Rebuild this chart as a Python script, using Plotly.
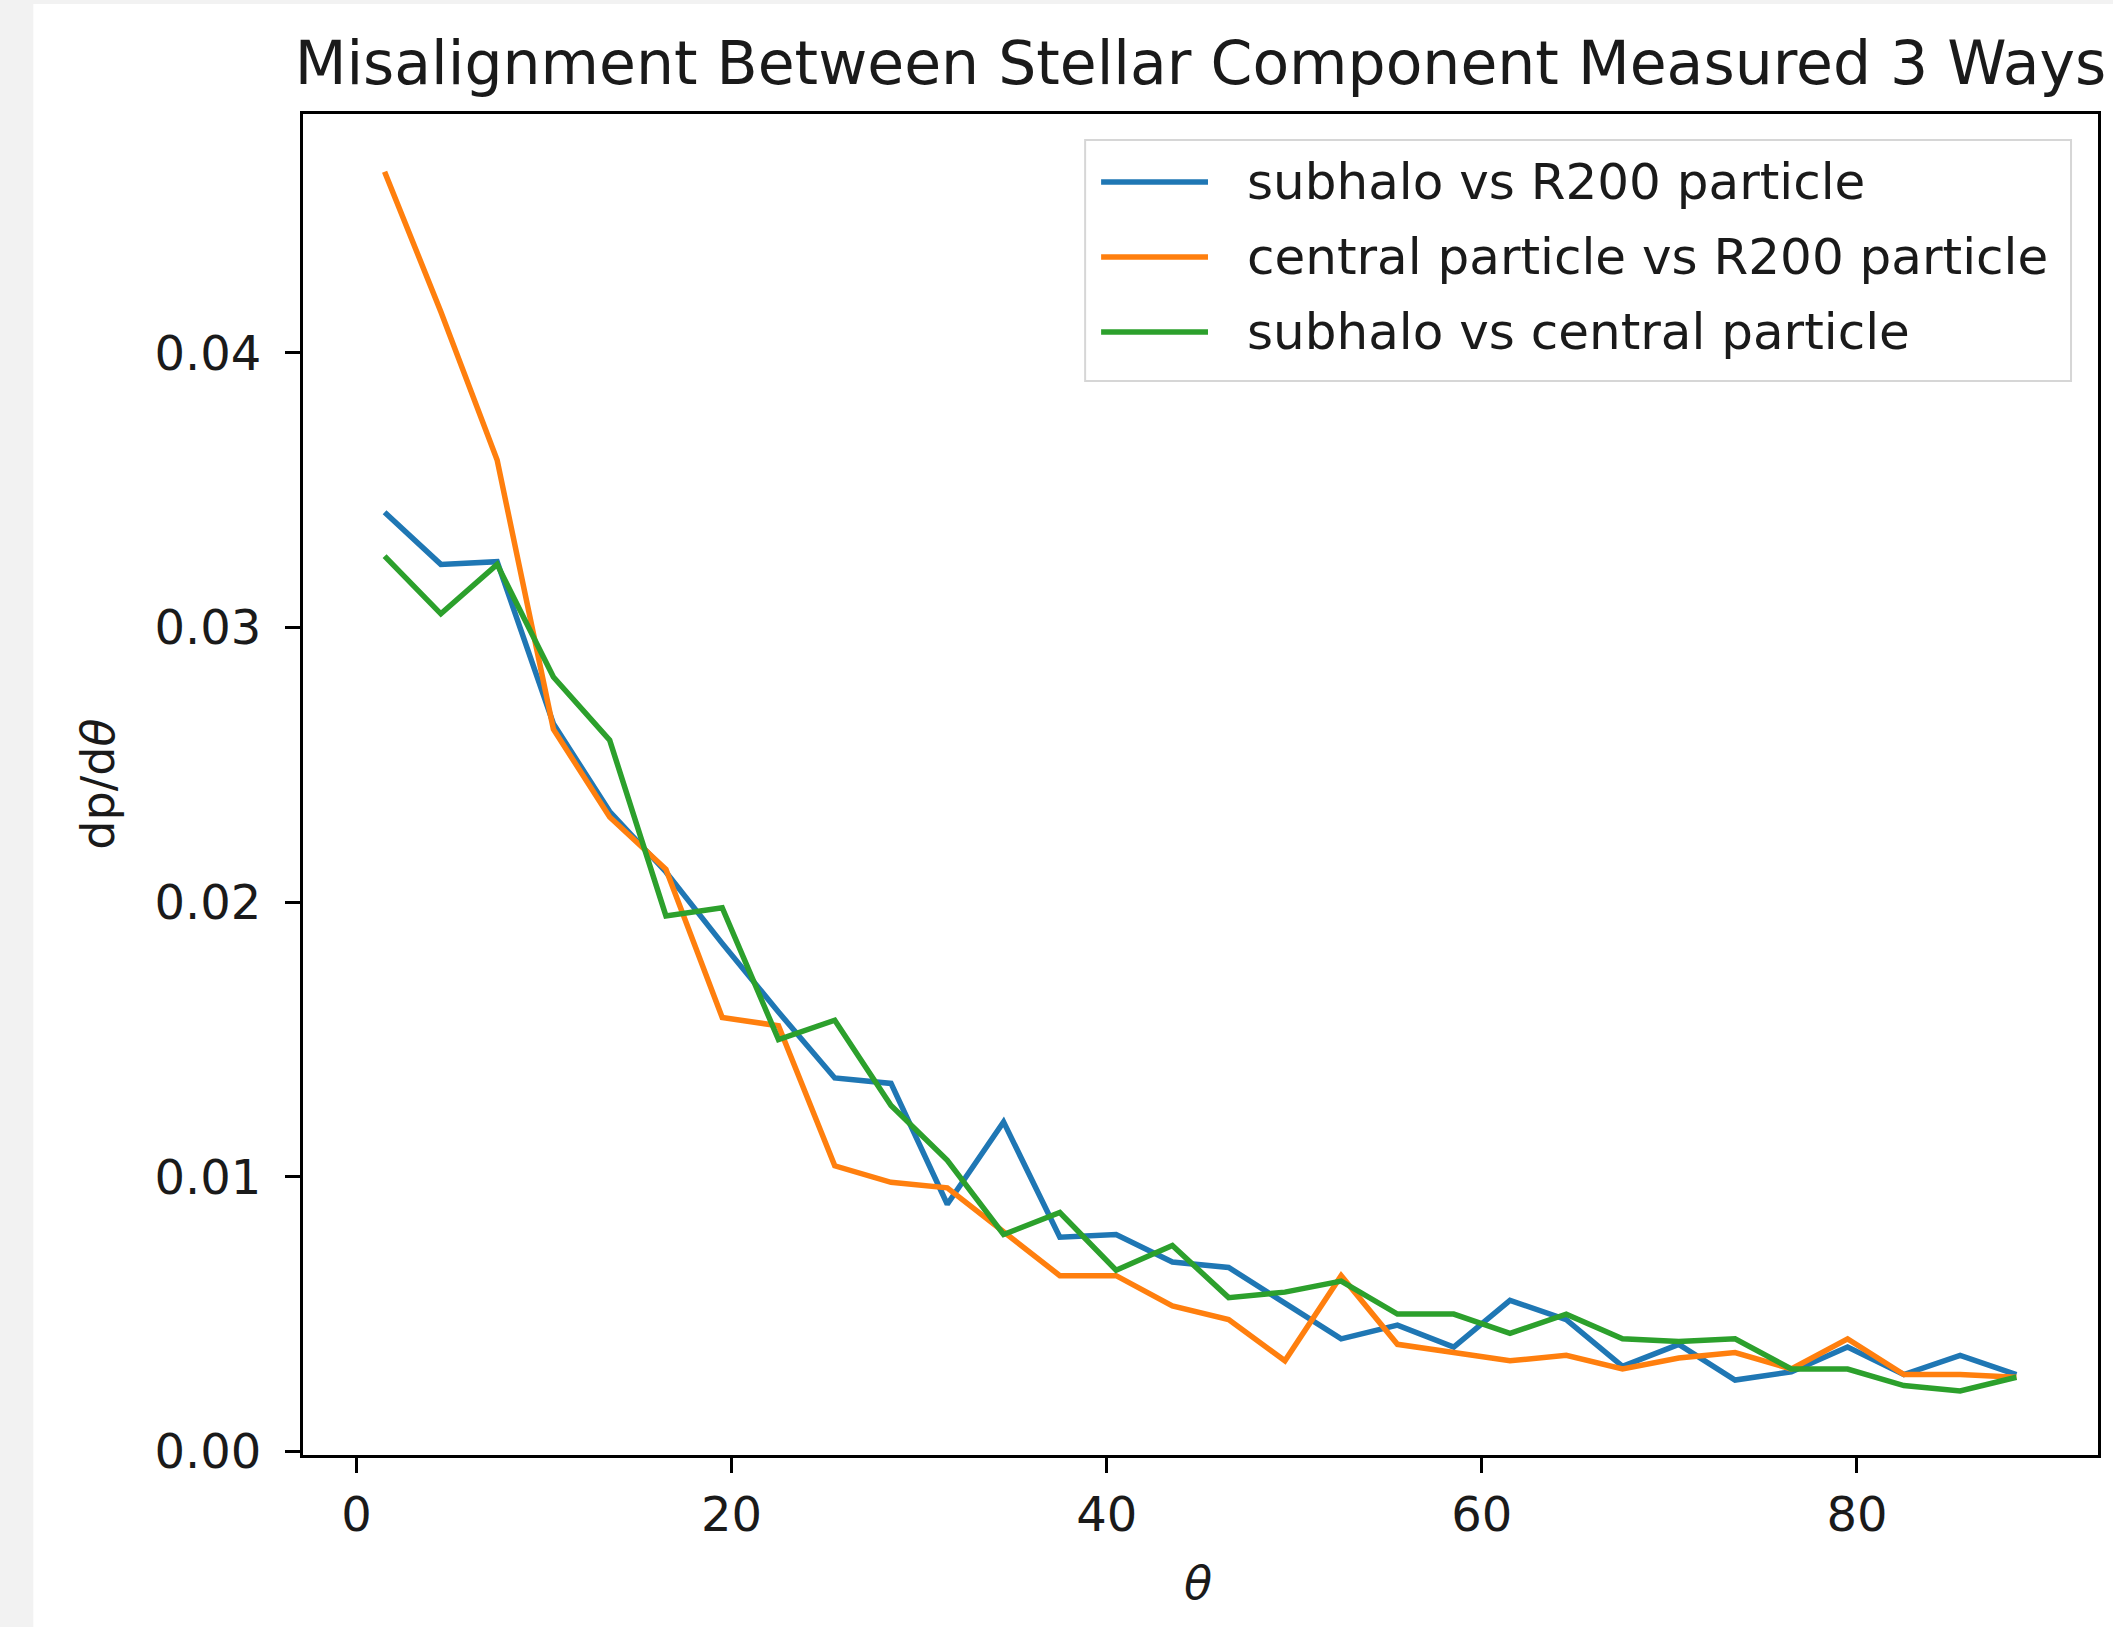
import plotly.graph_objects as go

# ---- data ----
theta = [1.5, 4.5, 7.5, 10.5, 13.5, 16.5, 19.5, 22.5, 25.5, 28.5,
         31.5, 34.5, 37.5, 40.5, 43.5, 46.5, 49.5, 52.5, 55.5, 58.5,
         61.5, 64.5, 67.5, 70.5, 73.5, 76.5, 79.5, 82.5, 85.5, 88.5]

subhalo_vs_r200 = [0.0342, 0.0323, 0.0324, 0.0265, 0.0233, 0.0211, 0.0185, 0.0160, 0.0136, 0.0134,
                   0.0090, 0.0120, 0.0078, 0.0079, 0.0069, 0.0067, 0.0054, 0.0041, 0.0046, 0.0038,
                   0.0055, 0.0048, 0.0031, 0.0039, 0.0026, 0.0029, 0.0038, 0.0028, 0.0035, 0.0028]

central_vs_r200 = [0.0466, 0.0415, 0.0361, 0.0263, 0.0231, 0.0212, 0.0158, 0.0155, 0.0104, 0.0098,
                   0.0096, 0.0080, 0.0064, 0.0064, 0.0053, 0.0048, 0.0033, 0.0064, 0.0039, 0.0036,
                   0.0033, 0.0035, 0.0030, 0.0034, 0.0036, 0.0030, 0.0041, 0.0028, 0.0028, 0.0027]

subhalo_vs_central = [0.0326, 0.0305, 0.0323, 0.0282, 0.0259, 0.0195, 0.0198, 0.0150, 0.0157, 0.0126,
                      0.0106, 0.0079, 0.0087, 0.0066, 0.0075, 0.0056, 0.0058, 0.0062, 0.0050, 0.0050,
                      0.0043, 0.0050, 0.0041, 0.0040, 0.0041, 0.0030, 0.0030, 0.0024, 0.0022, 0.0027]

series_names = ["subhalo vs R200 particle", "central particle vs R200 particle", "subhalo vs central particle"]
series_values = [subhalo_vs_r200, central_vs_r200, subhalo_vs_central]
series_colors = ["#1f77b4", "#ff7f0e", "#2ca02c"]

x_ticks = [0, 20, 40, 60, 80]
y_ticks = [0.00, 0.01, 0.02, 0.03, 0.04]
y_tick_text = ["0.00", "0.01", "0.02", "0.03", "0.04"]

# ---- layout geometry (pixels) ----
W, H = 2113, 1627
L, R, T, B = 303, 2100, 114, 1455
FONT = "DejaVu Sans"
TXT = "#1a1a1a"


def px(xp):
    return (xp - L) / (R - L)


def py(yp):
    return (B - yp) / (B - T)


fig = go.Figure()
for name, vals, col in zip(series_names, series_values, series_colors):
    fig.add_trace(go.Scatter(x=theta, y=vals, mode="lines", name=name,
                             line=dict(color=col, width=5.5), showlegend=False))

shapes = []
# page background: light gray strips on left / top, white elsewhere
shapes.append(dict(type="rect", xref="paper", yref="paper",
                   x0=px(33), x1=px(W + 5), y0=py(H + 5), y1=py(4),
                   fillcolor="white", line=dict(width=0), layer="below"))

annotations = []
# custom legend (matplotlib style)
shapes.append(dict(type="rect", xref="paper", yref="paper",
                   x0=px(1086), x1=px(2073), y0=py(381), y1=py(140),
                   fillcolor="rgba(255,255,255,0.85)", line=dict(color="#d6d6d6", width=2),
                   layer="above"))
row_y = [182, 257, 332]
for name, col, ry in zip(series_names, series_colors, row_y):
    shapes.append(dict(type="line", xref="paper", yref="paper",
                       x0=px(1102), x1=px(1209), y0=py(ry), y1=py(ry),
                       line=dict(color=col, width=5.5), layer="above"))
    annotations.append(dict(text=name, xref="paper", yref="paper",
                            x=px(1246), y=py(ry), xanchor="left", yanchor="middle",
                            showarrow=False, font=dict(family=FONT, size=50, color=TXT)))

# axis labels
annotations.append(dict(text="dp/d<i>θ</i>", xref="paper", yref="paper",
                        x=px(97), y=0.5, textangle=-90, xanchor="center", yanchor="middle",
                        showarrow=False, font=dict(family=FONT, size=46, color=TXT)))
annotations.append(dict(text="<i>θ</i>", xref="paper", yref="paper",
                        x=px(1199), y=py(1583), xanchor="center", yanchor="middle",
                        showarrow=False, font=dict(family=FONT, size=46, color=TXT)))

fig.update_layout(
    width=W, height=H,
    margin=dict(l=L, r=W - R, t=T, b=H - B, pad=0),
    paper_bgcolor="#f2f2f2",
    plot_bgcolor="white",
    font=dict(family=FONT, size=46, color=TXT),
    title=dict(text="Misalignment Between Stellar Component Measured 3 Ways",
               x=px((L + R) / 2), xref="paper", xanchor="center",
               y=1 - 63 / H, yref="container", yanchor="middle",
               font=dict(family=FONT, size=60, color=TXT)),
    shapes=shapes,
    annotations=annotations,
    showlegend=False,
    xaxis=dict(range=[-2.85, 92.85], tickmode="array", tickvals=x_ticks,
               ticks="outside", ticklen=15, tickwidth=3, tickcolor="black",
               showline=True, linewidth=3, linecolor="black", mirror=True,
               showgrid=False, zeroline=False, ticklabelstandoff=0,
               tickfont=dict(family=FONT, size=48, color=TXT)),
    yaxis=dict(range=[-0.00013, 0.0487], tickmode="array", tickvals=y_ticks, ticktext=y_tick_text,
               ticks="outside", ticklen=15, tickwidth=3, tickcolor="black",
               showline=True, linewidth=3, linecolor="black", mirror=True,
               showgrid=False, zeroline=False, ticklabelstandoff=14,
               tickfont=dict(family=FONT, size=48, color=TXT)),
)

fig.write_html("out.html")
